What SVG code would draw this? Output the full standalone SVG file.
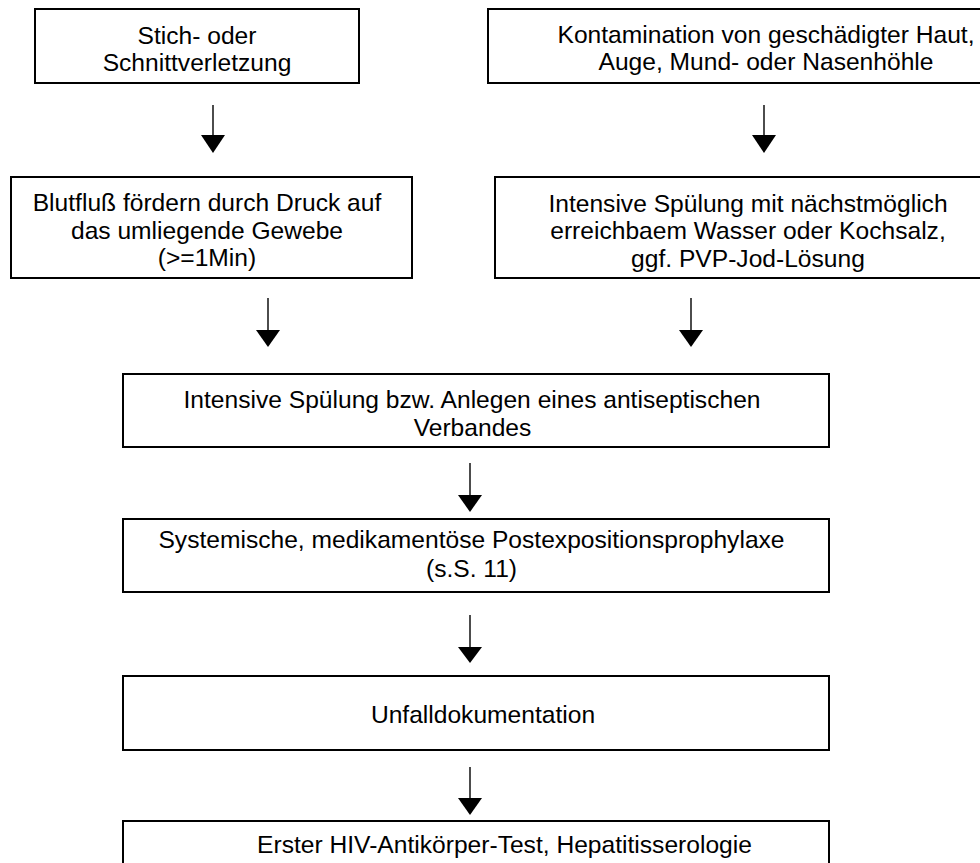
<svg xmlns="http://www.w3.org/2000/svg" width="980" height="863" viewBox="0 0 980 863">
<style>
.box{fill:#fff;stroke:#000;stroke-width:2}
.t{font-family:"Liberation Sans",Arial,sans-serif;font-size:24.6px;fill:#000;text-anchor:middle}
.c line{stroke:#000;stroke-width:1.4}
.c polygon{fill:#000}
</style>
<rect width="980" height="863" fill="#fff"/>
<g id="n1"><rect class="box" x="35" y="9" width="324" height="74"/>
<text class="t" x="197" y="43.5">Stich- oder</text><text class="t" x="197" y="70.5">Schnittverletzung</text></g>
<g id="n2"><rect class="box" x="488" y="9" width="560" height="74"/>
<text class="t" x="766" y="42.5">Kontamination von geschädigter Haut,</text><text class="t" x="766" y="70">Auge, Mund- oder Nasenhöhle</text></g>
<g id="n3"><rect class="box" x="11" y="177" width="401" height="101"/>
<text class="t" x="207" y="211">Blutfluß fördern durch Druck auf</text><text class="t" x="207" y="239">das umliegende Gewebe</text><text class="t" x="207" y="266">(&gt;=1Min)</text></g>
<g id="n4"><rect class="box" x="495" y="177" width="520" height="101"/>
<text class="t" x="748" y="212">Intensive Spülung mit nächstmöglich</text><text class="t" x="748" y="239">erreichbaem Wasser oder Kochsalz,</text><text class="t" x="748" y="267">ggf. PVP-Jod-Lösung</text></g>
<g id="n5"><rect class="box" x="123" y="374" width="706" height="73"/>
<text class="t" x="472" y="408">Intensive Spülung bzw. Anlegen eines antiseptischen</text><text class="t" x="472.5" y="436">Verbandes</text></g>
<g id="n6"><rect class="box" x="123" y="519" width="706" height="73"/>
<text class="t" x="471.5" y="548">Systemische, medikamentöse Postexpositionsprophylaxe</text><text class="t" x="471.5" y="577">(s.S. 11)</text></g>
<g id="n7"><rect class="box" x="123" y="676" width="706" height="74"/>
<text class="t" x="483" y="723">Unfalldokumentation</text></g>
<g id="n8"><rect class="box" x="123" y="821" width="706" height="60"/>
<text class="t" x="504.5" y="853">Erster HIV-Antikörper-Test, Hepatitisserologie</text></g>
<g id="connectors" class="c">
<line x1="213" y1="105" x2="213" y2="136"/><polygon points="201,135 225,135 213,153"/>
<line x1="764" y1="105" x2="764" y2="136"/><polygon points="752,135 776,135 764,153"/>
<line x1="268" y1="298" x2="268" y2="331"/><polygon points="256,330 280,330 268,347"/>
<line x1="691" y1="298" x2="691" y2="331"/><polygon points="679,330 703,330 691,347"/>
<line x1="470" y1="463" x2="470" y2="496"/><polygon points="458,495 482,495 470,512"/>
<line x1="470" y1="615" x2="470" y2="648"/><polygon points="458,647 482,647 470,663"/>
<line x1="470" y1="767" x2="470" y2="799"/><polygon points="458,798 482,798 470,815"/>
</g>
</svg>
